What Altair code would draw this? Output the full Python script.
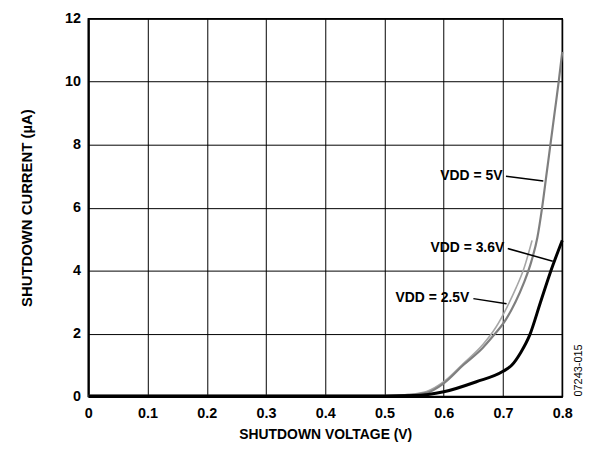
import altair as alt
import pandas as pd

FONT = "Liberation Sans"

# Curve data
x_5v = [0, 0.1, 0.2, 0.3, 0.4, 0.5, 0.54, 0.571, 0.6, 0.633, 0.666, 0.68, 0.705, 0.721, 0.735, 0.748, 0.758, 0.766, 0.773, 0.780, 0.787, 0.794, 0.8]
y_5v = [0.02, 0.02, 0.02, 0.02, 0.02, 0.02, 0.05, 0.12, 0.42, 1.0, 1.55, 1.85, 2.45, 3.0, 3.6, 4.3, 5.05, 6.0, 7.0, 8.0, 9.0, 10.0, 10.95]

x_25 = [0, 0.1, 0.2, 0.3, 0.4, 0.5, 0.54, 0.571, 0.6, 0.633, 0.666, 0.688, 0.707, 0.722, 0.735, 0.749]
y_25 = [0.02, 0.02, 0.02, 0.02, 0.02, 0.02, 0.06, 0.16, 0.47, 1.05, 1.65, 2.2, 2.85, 3.45, 4.05, 4.96]

x_36 = [0, 0.1, 0.2, 0.3, 0.4, 0.5, 0.55, 0.6, 0.655, 0.7, 0.715, 0.73, 0.745, 0.763, 0.780, 0.8]
y_36 = [0.02, 0.02, 0.02, 0.02, 0.02, 0.02, 0.03, 0.15, 0.47, 0.8, 1.0, 1.4, 1.95, 2.98, 3.95, 4.96]

# Annotation labels and leader lines
label_text = ["VDD = 5V", "VDD = 3.6V", "VDD = 2.5V"]
label_x = [0.699, 0.702, 0.643]
label_y = [7.0, 4.71, 3.13]
lead_x1 = [0.705, 0.708, 0.650]
lead_y1 = [7.0, 4.70, 3.11]
lead_x2 = [0.768, 0.784, 0.706]
lead_y2 = [6.85, 4.30, 2.95]

x_ticks = [0, 0.1, 0.2, 0.3, 0.4, 0.5, 0.6, 0.7, 0.8]
y_ticks = [0, 2, 4, 6, 8, 10, 12]

c25 = pd.DataFrame({"v": x_25, "i": y_25})
c5 = pd.DataFrame({"v": x_5v, "i": y_5v})
c36 = pd.DataFrame({"v": x_36, "i": y_36})
labels = pd.DataFrame({"t": label_text, "x": label_x, "y": label_y})
leads = pd.DataFrame({"x1": lead_x1, "y1": lead_y1, "x2": lead_x2, "y2": lead_y2})
code = pd.DataFrame({"t": ["07243-015"], "x": [0.829], "y": [0.0]})

xs = alt.Scale(domain=[0, 0.8], nice=False, zero=False)
ys = alt.Scale(domain=[0, 12], nice=False)

xax = alt.Axis(values=x_ticks, title="SHUTDOWN VOLTAGE (V)",
               labelExpr="datum.value == 0 ? '0' : format(datum.value, '.1f')")
yax = alt.Axis(values=y_ticks, title="SHUTDOWN CURRENT (µA)")

base_x = alt.X("v:Q", scale=xs, axis=xax)
base_y = alt.Y("i:Q", scale=ys, axis=yax)

l25 = alt.Chart(c25).mark_line(color="#a6a6a6", strokeWidth=1.6, interpolate="monotone").encode(
    x=base_x, y=base_y, order=alt.Order("v:Q"))
l5 = alt.Chart(c5).mark_line(color="#7f7f7f", strokeWidth=2.2, interpolate="monotone").encode(
    x=base_x, y=base_y, order=alt.Order("v:Q"))
l36 = alt.Chart(c36).mark_line(color="#000000", strokeWidth=3, interpolate="monotone").encode(
    x=base_x, y=base_y, order=alt.Order("v:Q"))

txt = alt.Chart(labels).mark_text(font=FONT, fontWeight="bold", fontSize=14, align="right",
                                  baseline="middle", color="black").encode(
    x=alt.X("x:Q", scale=xs), y=alt.Y("y:Q", scale=ys), text="t:N")
rules = alt.Chart(leads).mark_rule(color="black", strokeWidth=1.5).encode(
    x=alt.X("x1:Q", scale=xs), y=alt.Y("y1:Q", scale=ys),
    x2="x2:Q", y2="y2:Q")
codetxt = alt.Chart(code).mark_text(font=FONT, fontSize=11, angle=270, align="left",
                                    baseline="middle", color="black", clip=False).encode(
    x=alt.X("x:Q", scale=xs), y=alt.Y("y:Q", scale=ys), text="t:N")

chart = alt.layer(l25, l5, l36, rules, txt, codetxt).properties(
    width=478, height=381,
    autosize=alt.AutoSizeParams(type="none"),
    padding={"left": 81, "top": 9, "right": 30, "bottom": 45},
).configure_view(stroke="black", strokeWidth=1.5).configure_axis(
    labelFont=FONT, labelFontWeight="bold", labelFontSize=14.5, labelColor="black",
    titleFont=FONT, titleFontWeight="bold", titleFontSize=14, titleColor="black",
    domainColor="black", domainWidth=2, gridColor="black", gridWidth=1, gridOpacity=1,
    ticks=False, labelFlush=False,
).configure_axisX(labelPadding=10, titlePadding=8).configure_axisY(labelPadding=8, titlePadding=30, titleFontSize=15)

chart.save("out.html", embed_options={"renderer": "svg", "actions": False})
